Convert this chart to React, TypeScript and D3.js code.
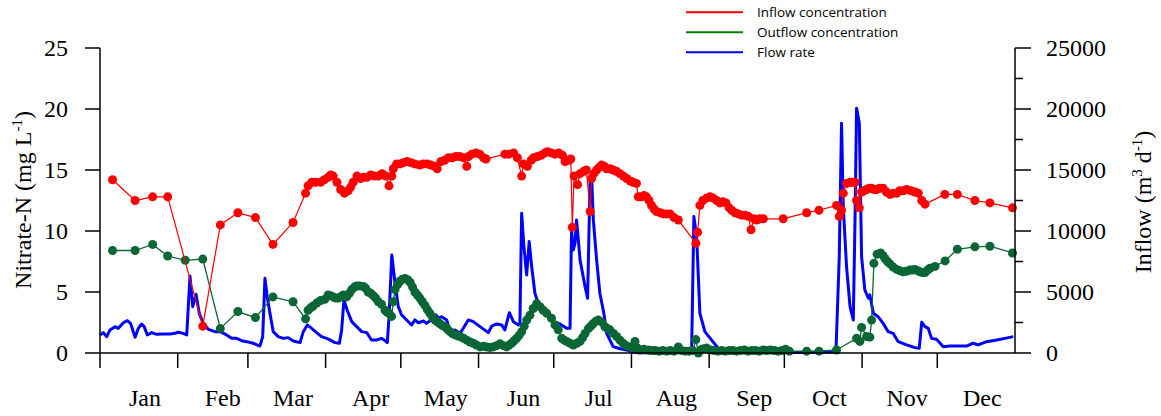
import React from "react";
import * as d3 from "d3";

// Day-of-year (0 = 1 Jan) and nitrate-N concentration, mg/L
const inflowConc: [number, number][] = [
  [5, 14.2], [14, 12.5], [21, 12.8], [27, 12.8], [41, 2.2], [48, 10.5], [55, 11.5], [62, 11.1], [69, 8.9], [77, 10.7],
  [82, 13.1], [83, 13.7], [84.5, 14.0], [86, 14.0], [88, 14.0], [89.5, 14.2], [91, 14.4], [92, 14.6], [93, 14.5], [94.5, 14.0],
  [96, 13.4], [97.5, 13.1], [99, 13.3], [100, 13.6], [101, 14.0], [102.5, 14.5], [104, 14.3], [105, 14.4], [106.5, 14.4], [108, 14.6],
  [109.5, 14.5], [111, 14.5], [112.5, 14.7], [114, 14.5], [115.3, 13.7], [116.4, 14.5], [117, 15.1], [118.3, 15.5], [119.7, 15.5],
  [121, 15.6], [122.5, 15.7], [124, 15.6], [125.5, 15.5], [127.5, 15.4], [129, 15.5], [130.5, 15.5], [132, 15.4], [133.5, 15.3],
  [134.5, 15.1], [136, 15.7], [137.5, 15.8], [139, 16.0], [140.5, 16.0], [142, 16.1], [143.5, 16.1], [145, 16.0], [146.3, 15.3],
  [147, 16.1], [148.3, 16.3], [150, 16.4], [151.5, 16.3], [153, 16.0], [154, 15.9],
  [161.5, 16.3], [163, 16.3], [165, 16.4], [166.5, 16.0], [168.2, 14.5], [168.9, 15.5], [170.5, 15.3], [172, 15.8], [173, 16.0],
  [174.5, 16.1], [176, 16.2], [177.5, 16.4], [178.5, 16.5], [180, 16.4], [181.5, 16.3], [183, 16.4], [184.5, 16.2], [185.5, 15.7],
  [187, 15.8], [187.8, 15.9], [188.4, 10.3], [189.1, 14.5], [190.5, 13.8], [191.5, 14.7], [193, 14.9], [194, 15.0], [195.5, 11.6],
  [196.1, 14.3], [197, 14.7], [198.1, 15.0], [199, 15.2], [200.1, 15.4], [201.2, 15.3], [202.1, 15.1], [203.5, 15.1], [204.7, 15.0],
  [206, 14.9], [207.4, 14.7], [208.8, 14.5], [210.1, 14.3], [211.5, 14.1], [212.7, 14.0], [214, 13.9], [214.7, 12.8], [216, 12.8],
  [217, 12.9], [218, 12.8], [219, 12.5], [220, 12.1], [221, 11.8], [222, 11.6], [223.5, 11.5], [224.7, 11.4], [226, 11.4],
  [227.4, 11.4], [229, 11.1], [230.7, 10.9],
  [237.7, 9.0], [238.4, 9.9], [239.3, 12.1], [240.5, 12.5], [242, 12.7], [243.3, 12.8], [244.6, 12.7], [246, 12.5], [247.3, 12.3],
  [248.5, 12.4], [249.7, 12.3], [251, 11.9], [252, 11.7], [253.3, 11.5], [254.6, 11.4], [256, 11.3], [257.3, 11.3], [258.6, 11.2],
  [259.7, 10.1], [260.8, 11.0], [261.9, 10.9], [263, 11.0], [264.6, 11.0],
  [272.5, 11.0], [281.9, 11.5], [286.8, 11.7], [293.8, 12.1], [294.9, 11.2], [295.8, 11.7], [296.5, 13.1], [297.8, 13.9],
  [299.2, 14.0], [300.2, 14.0], [301.2, 14.0], [301.8, 12.5], [302.9, 11.9], [303.8, 13.2], [304.8, 13.3], [305.8, 13.4],
  [306.8, 13.5], [307.8, 13.5], [308.8, 13.4], [309.8, 13.4], [311, 13.5], [312.4, 13.5], [313.7, 13.2], [315.1, 13.0],
  [316.5, 13.1], [317.8, 13.1], [319, 13.3], [320.5, 13.3], [321.8, 13.4], [323.5, 13.3], [325.1, 13.2], [326.4, 13.1],
  [327.8, 12.5], [329.1, 12.2],
  [337, 13.0], [342, 13.0], [349, 12.5], [355, 12.3], [364, 11.9],
];

const outflowConc: [number, number][] = [
  [5, 8.4], [14, 8.4], [21, 8.9], [27, 7.95], [34, 7.6], [41, 7.7], [48, 2.0], [55, 3.4], [62, 2.9], [69, 4.6], [77, 4.2], [82, 2.8],
  [83, 3.5], [84, 3.7], [85, 3.85], [86.5, 4.1], [88, 4.3], [89.7, 4.4], [91, 4.75], [92, 4.7], [93, 4.6], [94, 4.5], [95, 4.5],
  [96, 4.6], [97, 4.75], [98.4, 4.6], [99.5, 4.9], [100.4, 5.2], [101.5, 5.4], [102.4, 5.5], [103.5, 5.5], [105, 5.45], [106, 5.3],
  [107, 5.0], [108, 4.9], [109, 4.7], [110, 4.5], [111, 4.2], [112.3, 4.0], [113.7, 3.5], [114.5, 3.35], [115.3, 3.25], [116.3, 3.0],
  [117, 4.2], [117.7, 5.2], [118.7, 5.6], [119.7, 5.9], [120.7, 6.05], [121.7, 6.1], [122.7, 6.0], [123.7, 5.8], [124.7, 5.4],
  [125.6, 5.0], [126.6, 4.75], [127.6, 4.5], [128.6, 4.2], [129.6, 3.9], [130.6, 3.55], [131.6, 3.25], [132.6, 2.95], [133.6, 2.7],
  [134.6, 2.55], [135.6, 2.4], [136.6, 2.25], [137.6, 2.15], [138.6, 1.95], [139.6, 1.75], [140.6, 1.6], [141.6, 1.5], [142.6, 1.4],
  [143.6, 1.35], [145, 1.2], [146.3, 1.05], [147.6, 0.9], [148.9, 0.8], [150.2, 0.65], [151.6, 0.5], [153, 0.55], [154.2, 0.5],
  [155.5, 0.45], [156.8, 0.5], [158.2, 0.6], [159.6, 0.75], [161, 0.6], [162.2, 0.5], [163.2, 0.65], [164.2, 0.8], [165.2, 1.0],
  [166.2, 1.2], [167.2, 1.45], [168.2, 1.75], [169.2, 2.2], [170.2, 2.7], [171.5, 3.1], [172.8, 3.65], [174.2, 4.05], [175.5, 3.8],
  [176.8, 3.5], [178.2, 3.25], [180.1, 2.85], [181.5, 2.3], [182.8, 1.9], [184.2, 1.2], [185.2, 1.05], [186.1, 0.95], [187.5, 0.8],
  [188.8, 0.65], [190.2, 0.8], [191.5, 0.95], [192.5, 1.25], [193.5, 1.6], [194.8, 2.0], [195.8, 2.2], [196.7, 2.4], [197.8, 2.6],
  [198.8, 2.7], [200.1, 2.55], [201.4, 2.15], [202.4, 2.0], [203.4, 1.9], [204.8, 1.6], [206.1, 1.35], [207.4, 1.05], [208.7, 0.8],
  [210, 0.6], [211.4, 0.5], [212.4, 0.4], [213.4, 0.95], [214.4, 0.4], [215.4, 0.25], [217, 0.3], [218.7, 0.25], [220, 0.2],
  [221.5, 0.2], [223, 0.15], [224.5, 0.2], [226, 0.15], [227.5, 0.2], [229, 0.15], [230.7, 0.5], [232, 0.2], [233.5, 0.15],
  [235, 0.15], [236.5, 0.2], [237.7, 1.1], [238.7, 0.0], [240, 0.3], [241, 0.35], [242, 0.4], [243.5, 0.25], [245, 0.2],
  [246.5, 0.15], [248, 0.2], [249.5, 0.15], [251, 0.2], [252.5, 0.2], [254, 0.15], [255.5, 0.2], [257, 0.25], [258.5, 0.15],
  [260, 0.2], [261.5, 0.2], [263, 0.15], [264.5, 0.25], [266, 0.2], [267.5, 0.25], [269, 0.2], [270.5, 0.15], [272, 0.2],
  [273.5, 0.3], [275, 0.15],
  [281.9, 0.15], [286.8, 0.15], [293.8, 0.25], [301.8, 1.2], [303.1, 0.95], [303.8, 2.1], [305.8, 1.35], [307.1, 1.3], [307.8, 2.7],
  [308.7, 7.35], [310, 8.1], [311.4, 8.2], [312.3, 8.0], [313.1, 7.75], [314.1, 7.5], [315.1, 7.3], [316.4, 7.05], [317.8, 6.85],
  [319, 6.75], [320.3, 6.65], [321.7, 6.7], [323.1, 6.8], [324.1, 6.8], [325.1, 6.85], [326.1, 6.75], [327.1, 6.65], [328.1, 6.6],
  [329.1, 6.6], [330.1, 6.8], [331.1, 6.95], [333.1, 7.1], [337.1, 7.55], [342, 8.5], [349, 8.7], [355, 8.75], [364, 8.2],
];

// Day-of-year and inflow, m3/d
const flowRate: [number, number][] = [
  [0, 1480], [1.3, 1670], [2.7, 1340], [4, 1890], [6, 2160], [7.3, 2020], [9.3, 2480], [10.9, 2650], [12.2, 2430], [14, 1290],
  [15.3, 2020], [16.6, 2380], [17.6, 2160], [18.9, 1480], [20.6, 1670], [22.6, 1530], [25, 1560], [27.9, 1560], [30, 1620],
  [31.2, 1700], [33.2, 1610], [34.6, 1480], [35.9, 6310], [37, 3800], [38.3, 4810], [39.6, 3250], [41.2, 2430], [43.2, 1940],
  [45.9, 1750], [47.9, 1750], [50.5, 1480], [52.5, 1200], [54.5, 1200], [56.5, 1010], [58.5, 930], [61.1, 800], [63.8, 570],
  [64.9, 1340], [65.8, 6120], [66.7, 4620], [67.8, 3250], [69.1, 1750], [71.1, 1340], [73.1, 1200], [75.1, 1260], [77.1, 980],
  [79.8, 850], [81.1, 1750], [82.7, 2300], [84.4, 2020], [86.4, 1670], [88.4, 1340], [90.4, 1200], [91.7, 1070], [93.7, 850],
  [95.5, 800], [96.4, 1890], [97.3, 4350], [98.6, 3530], [100.4, 2570], [102.4, 2160], [104.4, 1750], [106.4, 1670], [108.3, 1070],
  [110.3, 1070], [112.3, 1200], [113.7, 1010], [114.6, 850], [115.3, 2980], [116.4, 8040], [117.7, 5720], [119, 3800], [120.3, 3120],
  [122.3, 2710], [124.3, 2300], [125.6, 2710], [127, 2480], [129, 2620], [130.3, 2430], [132.3, 2760], [134, 3120], [135, 2850],
  [136.3, 2980], [138.3, 2710], [139.6, 1750], [141.6, 1890], [143.6, 1610], [144.9, 2020], [146.9, 2710], [148.9, 2570],
  [151.6, 2160], [154.9, 1670], [156.3, 2210], [158.2, 2380], [160.2, 2300], [161.5, 1890], [163.3, 3300], [164.9, 2570],
  [166.9, 2300], [167.5, 2430], [168.2, 11450], [169.1, 8720], [170.2, 6400], [171.2, 9130], [172.2, 7080], [173.5, 4900],
  [174.8, 4080], [176.8, 3530], [178.8, 2980], [180.8, 2570], [183.5, 2380], [186.1, 2020], [187.5, 2020], [188.1, 10090],
  [188.8, 8450], [189.5, 9000], [190.1, 10910], [191.5, 7630], [193.5, 5440], [194.5, 4490], [195.5, 14190], [196.1, 14460],
  [196.8, 10910], [198.1, 7630], [199.4, 4900], [201, 3250], [202.1, 1610], [204.7, 520], [207.5, 350], [210.1, 250], [212.7, 60],
  [215, 30], [220, 20], [225, 20], [230, 20], [236, 100], [236.9, 11180], [238, 9540], [239.3, 3250], [241.3, 1750], [243.9, 1070],
  [246.6, 390], [249, 200], [251.3, 100], [260, 60], [270, 40], [280, 40], [292.5, 80], [293.6, 250], [294.9, 7900], [295.8, 18840],
  [296.5, 12000], [297.8, 7080], [299.2, 3800], [300.5, 2710], [301.2, 11180], [301.8, 20070], [302.9, 18840], [303.8, 7900],
  [305.1, 5170], [306.5, 4490], [307.1, 4760], [308.5, 3250], [310.4, 2980], [312.4, 2430], [314.4, 1750], [316.4, 1610],
  [318.4, 930], [321.8, 660], [325.1, 440], [326.8, 390], [327.8, 2520], [329.1, 2160], [330.4, 2020], [331.7, 1200], [333.7, 1120],
  [336.4, 520], [339, 570], [343, 570], [345.7, 570], [348.3, 800], [350.3, 660], [353.7, 930], [357.7, 1070], [361, 1200],
  [364.3, 1340],
];

const monthStarts = [0, 31, 59, 90, 120, 151, 181, 212, 243, 273, 304, 334];
const monthNames = ["Jan", "Feb", "Mar", "Apr", "May", "Jun", "Jul", "Aug", "Sep", "Oct", "Nov", "Dec"];
const leftTicks = [0, 5, 10, 15, 20, 25];
const rightMajorTicks = [0, 5000, 10000, 15000, 20000, 25000];
const rightMinorTicks = [2500, 7500, 12500, 17500, 22500];

const legendItems = [
  { label: "Inflow concentration", color: "#ff0000" },
  { label: "Outflow concentration", color: "#008000" },
  { label: "Flow rate", color: "#0000ff" },
];

const W = 1161;
const H = 416;
const M = { left: 100, right: 1015, top: 48, bottom: 353 };
const SERIF = "'Liberation Serif', 'Times New Roman', serif";
const RED = "#ff0000";
const GREEN = "#0a6634";
const BLUE = "#0000ff";

export default function App() {
  const x = d3.scaleLinear().domain([0, 365]).range([M.left, M.right]);
  const yL = d3.scaleLinear().domain([0, 25]).range([M.bottom, M.top]);
  const yR = d3.scaleLinear().domain([0, 25000]).range([M.bottom, M.top]);

  const concLine = d3
    .line<[number, number]>()
    .x((d) => x(d[0]))
    .y((d) => yL(d[1]));
  const flowLine = d3
    .line<[number, number]>()
    .x((d) => x(d[0]))
    .y((d) => yR(d[1]));

  return (
    <svg
      width={W}
      height={H}
      style={{ position: "absolute", left: 0, top: 0, background: "#fff" }}
    >
      {/* flow rate */}
      <path d={flowLine(flowRate) || ""} fill="none" stroke={BLUE} strokeWidth={3} strokeLinejoin="round" />

      {/* outflow concentration */}
      <path d={concLine(outflowConc) || ""} fill="none" stroke={GREEN} strokeWidth={1.3} />
      {outflowConc.map((d, i) => (
        <circle key={"o" + i} cx={x(d[0])} cy={yL(d[1])} r={4.5} fill={GREEN} />
      ))}

      {/* inflow concentration */}
      <path d={concLine(inflowConc) || ""} fill="none" stroke={RED} strokeWidth={1.2} />
      {inflowConc.map((d, i) => (
        <circle key={"i" + i} cx={x(d[0])} cy={yL(d[1])} r={4.5} fill={RED} />
      ))}

      {/* axes */}
      <g stroke="#000" strokeWidth={1.5} fill="none">
        <line x1={M.left} x2={M.left} y1={M.top} y2={M.bottom} />
        <line x1={M.right} x2={M.right} y1={M.top} y2={M.bottom} />
        <line x1={M.left} x2={M.right} y1={M.bottom} y2={M.bottom} />
        {leftTicks.map((t) => (
          <line key={"lt" + t} x1={M.left - 15} x2={M.left} y1={yL(t)} y2={yL(t)} />
        ))}
        {rightMajorTicks.map((t) => (
          <line key={"rt" + t} x1={M.right} x2={M.right + 16} y1={yR(t)} y2={yR(t)} />
        ))}
        {rightMinorTicks.map((t) => (
          <line key={"rm" + t} x1={M.right} x2={M.right + 8} y1={yR(t)} y2={yR(t)} />
        ))}
        {monthStarts.map((m) => (
          <line key={"mt" + m} x1={x(m)} x2={x(m)} y1={M.bottom} y2={M.bottom + 15} />
        ))}
      </g>

      <g fontFamily={SERIF} fontSize={24} fill="#000">
        {leftTicks.map((t) => (
          <text key={"ll" + t} x={M.left - 32} y={yL(t)} dy="0.33em" textAnchor="end">
            {t}
          </text>
        ))}
        {rightMajorTicks.map((t) => (
          <text key={"rl" + t} x={M.right + 31} y={yR(t)} dy="0.33em" textAnchor="start">
            {t}
          </text>
        ))}
        {monthStarts.map((m, i) => (
          <text key={"ml" + m} x={x(m) + 45} y={406} textAnchor="middle">
            {monthNames[i]}
          </text>
        ))}
        <text transform="translate(31,200) rotate(-90)" textAnchor="middle">
          Nitrate-N (mg L
          <tspan fontSize={15} dy={-9}>-1</tspan>
          <tspan dy={9}>)</tspan>
        </text>
        <text transform="translate(1151,202) rotate(-90)" textAnchor="middle">
          Inflow (m
          <tspan fontSize={15} dy={-9}>3</tspan>
          <tspan dy={9}> d</tspan>
          <tspan fontSize={15} dy={-9}>-1</tspan>
          <tspan dy={9}>)</tspan>
        </text>
      </g>

      {/* legend */}
      <g fontFamily="'Open Sans', sans-serif" fontSize={13.5} fill="#000">
        {legendItems.map((it, i) => (
          <g key={it.label} transform={`translate(0,${12.3 + i * 20})`}>
            <line x1={686} x2={743} y1={0} y2={0} stroke={it.color} strokeWidth={2} />
            <text x={757} y={0} dy="0.35em">
              {it.label}
            </text>
          </g>
        ))}
      </g>
    </svg>
  );
}
